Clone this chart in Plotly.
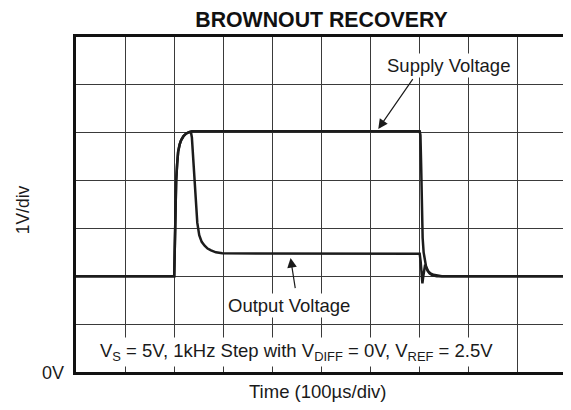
import plotly.graph_objects as go

# Time in microseconds (100 us/div), voltage in volts (1 V/div, 0 V at bottom)
supply_t = [0, 200, 201, 202, 203, 204, 206, 208, 211, 214, 219, 224, 230, 236,
            700, 701.5, 703, 704.5, 706, 708, 710, 713, 717, 722, 728, 736, 745, 1000]
supply_v = [2.0, 2.0, 2.5, 3.2, 3.7, 4.0, 4.35, 4.6, 4.75, 4.84, 4.93, 4.98, 5.01, 5.03,
            5.03, 4.95, 4.3, 3.4, 2.8, 2.5, 2.33, 2.2, 2.11, 2.06, 2.03, 2.01, 2.0, 2.0]

output_t = [0, 200, 201, 202, 203, 204, 206, 208, 211, 214, 219, 224, 230, 234,
            236, 238, 241, 244, 247, 251, 256, 262, 268, 275, 285, 298,
            700, 702, 704, 705.5, 707, 709, 711, 713, 716, 720, 726, 735, 1000]
output_v = [2.0, 2.0, 2.5, 3.2, 3.7, 4.0, 4.35, 4.6, 4.75, 4.84, 4.93, 4.98, 5.01, 5.02,
            4.9, 4.58, 3.95, 3.45, 3.12, 2.86, 2.72, 2.64, 2.58, 2.54, 2.5, 2.48,
            2.47, 2.3, 1.95, 1.85, 1.98, 2.18, 2.24, 2.2, 2.12, 2.06, 2.02, 2.0, 2.0]

LINE = "#1c1c1c"
FONT = "Liberation Sans, Arial, Helvetica, sans-serif"

# The page body has an 8px margin, so the figure is sized to fill the rest.
OFF = 8
W, H = 571 - OFF, 410 - OFF
PL, PR, PT, PB = 76, 570, 37, 372   # plot area in page pixels


def px(xp):
    return (xp - PL) / (PR - PL)


def py(yp):
    return (PB - yp) / (PB - PT)


fig = go.Figure()
fig.add_trace(go.Scatter(x=supply_t, y=supply_v, mode="lines",
                         line=dict(color=LINE, width=2.5), name="Supply Voltage",
                         showlegend=False))
fig.add_trace(go.Scatter(x=output_t, y=output_v, mode="lines",
                         line=dict(color=LINE, width=2.5), name="Output Voltage",
                         showlegend=False))

fig.update_layout(
    width=W, height=H,
    margin=dict(l=PL - OFF, r=571 - PR, t=PT - OFF, b=410 - PB),
    paper_bgcolor="white", plot_bgcolor="white",
    font=dict(family=FONT, size=18, color="#1a1a1a"),
    title=dict(text="<b>BROWNOUT RECOVERY</b>", x=0.5, xref="paper",
               y=1 - (20 - OFF) / H, yref="container", yanchor="middle", xanchor="center",
               font=dict(family=FONT, size=21.3, color="#111")),
    showlegend=False,
)
fig.update_xaxes(range=[0, 1000], dtick=100, tick0=0, showticklabels=False,
                 showgrid=True, gridcolor="#3a3a3a", gridwidth=1, zeroline=False,
                 showline=True, mirror=True, linecolor="#111", linewidth=2.5,
                 ticks="")
fig.update_yaxes(range=[0, 7], dtick=1, tick0=0, showticklabels=False,
                 showgrid=True, gridcolor="#3a3a3a", gridwidth=1, zeroline=False,
                 showline=True, mirror=True, linecolor="#111", linewidth=2.5,
                 ticks="")

# Labels
fig.add_annotation(x=758, y=6.40, xref="x", yref="y", text="Supply Voltage",
                   showarrow=False, bgcolor="white", borderpad=1,
                   xanchor="center", yanchor="middle", font=dict(size=18.5))
fig.add_annotation(x=615.6, y=5.08, xref="x", yref="y", ax=688, ay=6.15,
                   axref="x", ayref="y", text="", showarrow=True,
                   arrowhead=2, arrowsize=1.6, arrowwidth=1.2, arrowcolor="#1a1a1a")
fig.add_annotation(x=433.6, y=1.40, xref="x", yref="y", text="Output Voltage",
                   showarrow=False, bgcolor="white", borderpad=1,
                   xanchor="center", yanchor="middle", font=dict(size=18.5))
fig.add_annotation(x=437, y=2.38, xref="x", yref="y", ax=447, ay=1.72,
                   axref="x", ayref="y", text="", showarrow=True,
                   arrowhead=2, arrowsize=1.6, arrowwidth=1.2, arrowcolor="#1a1a1a")
fig.add_annotation(x=448.7, y=0.42, xref="x", yref="y",
                   text="V<sub>S</sub> = 5V, 1kHz Step with V<sub>DIFF</sub> = 0V, V<sub>REF</sub> = 2.5V",
                   showarrow=False, bgcolor="white", borderpad=2,
                   xanchor="center", yanchor="middle", font=dict(size=18.5))

# Axis texts
fig.add_annotation(x=px(23), y=py(210), xref="paper", yref="paper",
                   text="1V/div", textangle=-90, showarrow=False,
                   xanchor="center", yanchor="middle", font=dict(size=17.5))
fig.add_annotation(x=px(53), y=py(373), xref="paper", yref="paper",
                   text="0V", showarrow=False, xanchor="center", yanchor="middle",
                   font=dict(size=18))
fig.add_annotation(x=px(319), y=py(391), xref="paper", yref="paper",
                   text="Time (100µs/div)", showarrow=False,
                   xanchor="center", yanchor="middle", font=dict(size=18.5))

fig.write_html("out.html")
